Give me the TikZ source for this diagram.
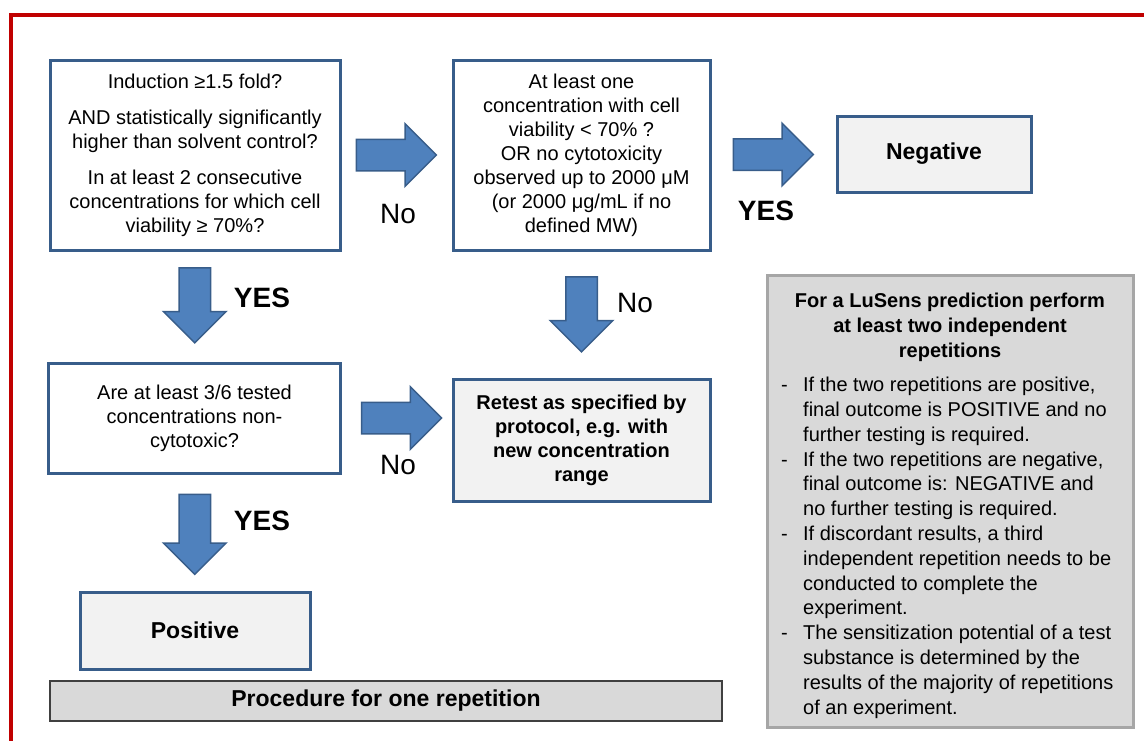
\documentclass[tikz,border=0pt]{standalone}
\usepackage{fontspec}
\setmainfont{Liberation Sans}
\usetikzlibrary{calc,shapes.arrows}

\definecolor{boxblue}{HTML}{385D8A}
\definecolor{arrowblue}{HTML}{4F81BD}
\definecolor{framered}{HTML}{C00000}
\definecolor{resultfill}{HTML}{F2F2F2}
\definecolor{panelfill}{HTML}{D9D9D9}
\definecolor{panelline}{HTML}{A6A6A6}

\newcommand{\itemdash}{\makebox[22pt][l]{-}}
\newcommand{\itemgap}{\hspace*{22pt}}

\begin{document}
\begin{tikzpicture}[x=1pt,y=-1pt,font=\fontsize{20}{24}\selectfont,
  question/.style={draw=boxblue,line width=3pt,fill=white,align=center,inner sep=0pt},
  result/.style={question,fill=resultfill,font=\fontsize{23}{28}\selectfont\bfseries},
  blockarrow/.style={single arrow,draw=boxblue,fill=arrowblue,line width=1.5pt,
    inner sep=15pt,single arrow head extend=15.5pt,minimum height=80pt},
  answer/.style={font=\fontsize{28}{32}\selectfont},
  yes/.style={font=\fontsize{28}{32}\selectfont\bfseries}]

\useasboundingbox (0,0) rectangle (1144,740);
\draw[framered,line width=3.5pt] (11,745) -- (11,15) -- (1150,15);

% one repetition
\node[question,minimum width=290pt,minimum height=190pt] (q1) at (195,155)
  {\rule{0pt}{6pt}Induction ≥1.5 fold?\\[12pt] AND statistically significantly\\ higher than solvent control?\\[12pt]
   In at least 2 consecutive\\ concentrations for which cell\\ viability ≥ 70\%?};
\node[question,minimum width=257pt,minimum height=190pt] (q2) at (581.5,155)
  {At least one\\ concentration with cell\\ viability < 70\% ?\\ OR no cytotoxicity\\
   observed up to 2000 μM\\ (or 2000 μg/mL if no\\ defined MW)};
\node[result,minimum width=194pt,minimum height=76pt] (neg) at (934,154) {Negative};
\node[question,minimum width=292pt,minimum height=110pt] (q3) at (194.5,418)
  {Are at least 3/6 tested\\ concentrations non-\\ cytotoxic?};
\node[result,font=\fontsize{20}{24}\selectfont\bfseries,minimum width=257pt,minimum height=122pt] (retest) at (581.5,440)
  {Retest as specified by\\ protocol, e.g. with\\ new concentration\\ range};
\node[result,minimum width=230pt,minimum height=77pt] (pos) at (195,630.5) {Positive};
\node[draw=black!75,fill=panelfill,line width=1.5pt,minimum width=672pt,minimum height=40pt,
  font=\fontsize{23}{28}\selectfont\bfseries] (proc) at (386,701) {Procedure for one repetition};

\node[blockarrow] (arrA) at ($(q1.east)!0.5!(q2.west)+(-8,0)$) {};
\node[blockarrow] (arrB) at ($(q2.east)!0.5!(neg.west)+(-8,0)$) {};
\node[blockarrow] (arrC) at ($(q3.east)!0.5!(q3.east -| retest.west)+(-3,0)$) {};
\node[blockarrow,rotate=-90,minimum height=75pt] (arrD) at ($(q1.south)!0.5!(q3.north)+(0,-9)$) {};
\node[blockarrow,rotate=-90,minimum height=75pt] (arrE) at ($(q2.south)!0.5!(retest.north)+(0,-8)$) {};
\node[blockarrow,rotate=-90,minimum height=80pt] (arrF) at ($(q3.south)!0.5!(pos.north)+(0,-6)$) {};

\node[answer] (noA) at (398,214) {No};
\node[yes] (yesB) at (766,211) {YES};
\node[yes] (yesD) at (262,298) {YES};
\node[answer] (noE) at (635,303) {No};
\node[answer] (noC) at (398,465) {No};
\node[yes] (yesF) at (262,521) {YES};

% prediction rules
\node[draw=panelline,fill=panelfill,line width=3pt,minimum width=366pt,minimum height=452pt] (panel) at (950,501) {};
\node[font=\fontsize{20}{25}\selectfont\bfseries,align=center] (ptitle) at (950,327)
  {For a LuSens prediction perform\\ at least two independent\\ repetitions};
\node[anchor=north west,align=left,inner sep=0pt,font=\fontsize{20}{24.8}\selectfont] (plist) at (781,377)
  {\itemdash If the two repetitions are positive,\\ \itemgap final outcome is POSITIVE and no\\
   \itemgap further testing is required.\\
   \itemdash If the two repetitions are negative,\\ \itemgap final outcome is: NEGATIVE and\\
   \itemgap no further testing is required.\\
   \itemdash If discordant results, a third\\ \itemgap independent repetition needs to be\\
   \itemgap conducted to complete the\\ \itemgap experiment.\\
   \itemdash The sensitization potential of a test\\ \itemgap substance is determined by the\\
   \itemgap results of the majority of repetitions\\ \itemgap of an experiment.};

\end{tikzpicture}
\end{document}
